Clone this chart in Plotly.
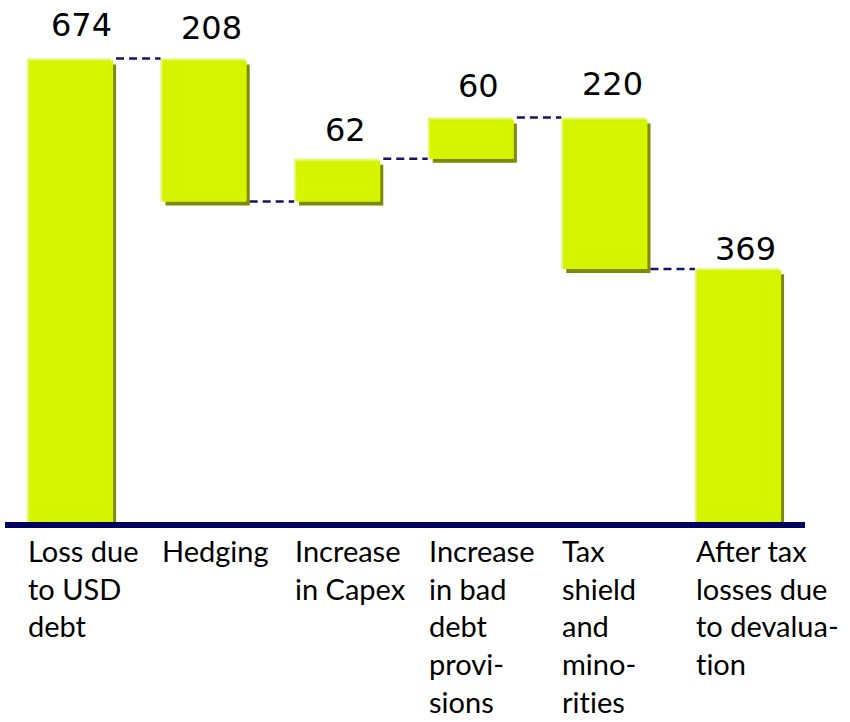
import plotly.graph_objects as go

ZWNJ = "\u200c"  # keeps "ti" from turning into a ligature in Lato

# Waterfall data: after-tax losses from the currency devaluation
categories = [
    "Loss due<br>to USD<br>debt",
    "Hedging",
    "Increase<br>in Capex",
    "Increase<br>in bad<br>debt<br>provi-<br>sions",
    f"Tax<br>shield<br>and<br>mino-<br>rit{ZWNJ}ies",
    f"After tax<br>losses due<br>to devalua-<br>t{ZWNJ}ion",
]
values = [674, -208, 62, 60, -220, 369]
kinds = ["total", "delta", "delta", "delta", "delta", "total"]
value_labels = ["674", "208", "62", "60", "220", "369"]

# Layout geometry
W, H = 850, 722
M_L, M_R, M_T, M_B = 5, 45, 0, 200
PLOT_W = W - M_L - M_R
PLOT_H = H - M_T - M_B
X_RANGE = [-0.479, 5.509]
Y_RANGE = [0, 759]
PX_X = PLOT_W / (X_RANGE[1] - X_RANGE[0])   # pixels per category step
PX_Y = PLOT_H / (Y_RANGE[1] - Y_RANGE[0])   # pixels per value unit
BAR_W = 0.63

FILL = "#d4f400"
LIGHT = "#e4f86c"
SHADOW = "#7c8b00"
NAVY = "#000060"
DASH = "#14146a"

# Per-label nudges (pixels) for the value labels above the bars
LABEL_DX = [13, 9, 9.5, 8.5, 9.5, 8]
LABEL_LIFT = [22, 19, 18, 21, 23, 8]

# Running totals -> bar bases and heights
xs = list(range(len(values)))
bases, heights, levels = [], [], []
level = 0
for v, k in zip(values, kinds):
    if k == "total":
        bases.append(0)
        heights.append(v)
        level = v
    else:
        new = level + v
        bases.append(min(level, new))
        heights.append(abs(v))
        level = new
    levels.append(level)
tops = [b + h for b, h in zip(bases, heights)]

fig = go.Figure()

bv = 2   # bevel width (px)
sh = 3   # shadow offset beyond the face (px)

# drop shadow (offset right and down from the face)
fig.add_trace(go.Bar(
    x=xs, y=[h - bv / PX_Y for h in heights],
    base=[b - (sh + 1) / PX_Y for b in bases],
    width=BAR_W, offset=-BAR_W / 2 + (bv + sh) / PX_X,
    marker=dict(color=SHADOW, line=dict(width=0)), hoverinfo="skip",
))
# light bevel on top/left edges
fig.add_trace(go.Bar(
    x=xs, y=heights, base=bases,
    width=BAR_W, offset=-BAR_W / 2,
    marker=dict(color=LIGHT, line=dict(width=0)), hoverinfo="skip",
))
# main face
fig.add_trace(go.Bar(
    x=xs, y=[h - bv / PX_Y for h in heights], base=bases,
    width=BAR_W, offset=-BAR_W / 2 + bv / PX_X,
    marker=dict(color=FILL, line=dict(width=0)), hoverinfo="skip",
))

# dashed connectors between consecutive bars
for i in range(len(values) - 1):
    lv = levels[i]
    fig.add_trace(go.Scatter(
        x=[xs[i] + BAR_W / 2 + (bv + sh) / PX_X, xs[i + 1] - BAR_W / 2],
        y=[lv, lv], mode="lines",
        line=dict(color=DASH, width=2.5, dash="8px,5px"),
        hoverinfo="skip",
    ))

annotations = []
for i, (t, lab) in enumerate(zip(tops, value_labels)):
    annotations.append(dict(
        x=xs[i], y=t, xref="x", yref="y", text=lab, showarrow=False,
        xanchor="center", yanchor="bottom",
        xshift=LABEL_DX[i], yshift=LABEL_LIFT[i] - 10,
        font=dict(family="DejaVu Sans", size=32, color="#000000"),
    ))
for i, c in enumerate(categories):
    annotations.append(dict(
        x=xs[i] - BAR_W / 2, y=0, xref="x", yref="paper", text=c,
        showarrow=False, xanchor="left", yanchor="top", align="left",
        xshift=-1, yshift=-9,
        font=dict(family="Lato", size=29, color="#000000"),
    ))

fig.update_layout(
    width=W, height=H,
    margin=dict(l=M_L, r=M_R, t=M_T, b=M_B),
    paper_bgcolor="white", plot_bgcolor="white",
    barmode="overlay", showlegend=False,
    xaxis=dict(range=X_RANGE, showgrid=False, zeroline=False,
               showticklabels=False, ticks="",
               showline=True, linewidth=6, linecolor=NAVY),
    yaxis=dict(range=Y_RANGE, showgrid=False, zeroline=False,
               showticklabels=False, ticks="", showline=False),
    annotations=annotations,
)

fig.write_html("out.html")
